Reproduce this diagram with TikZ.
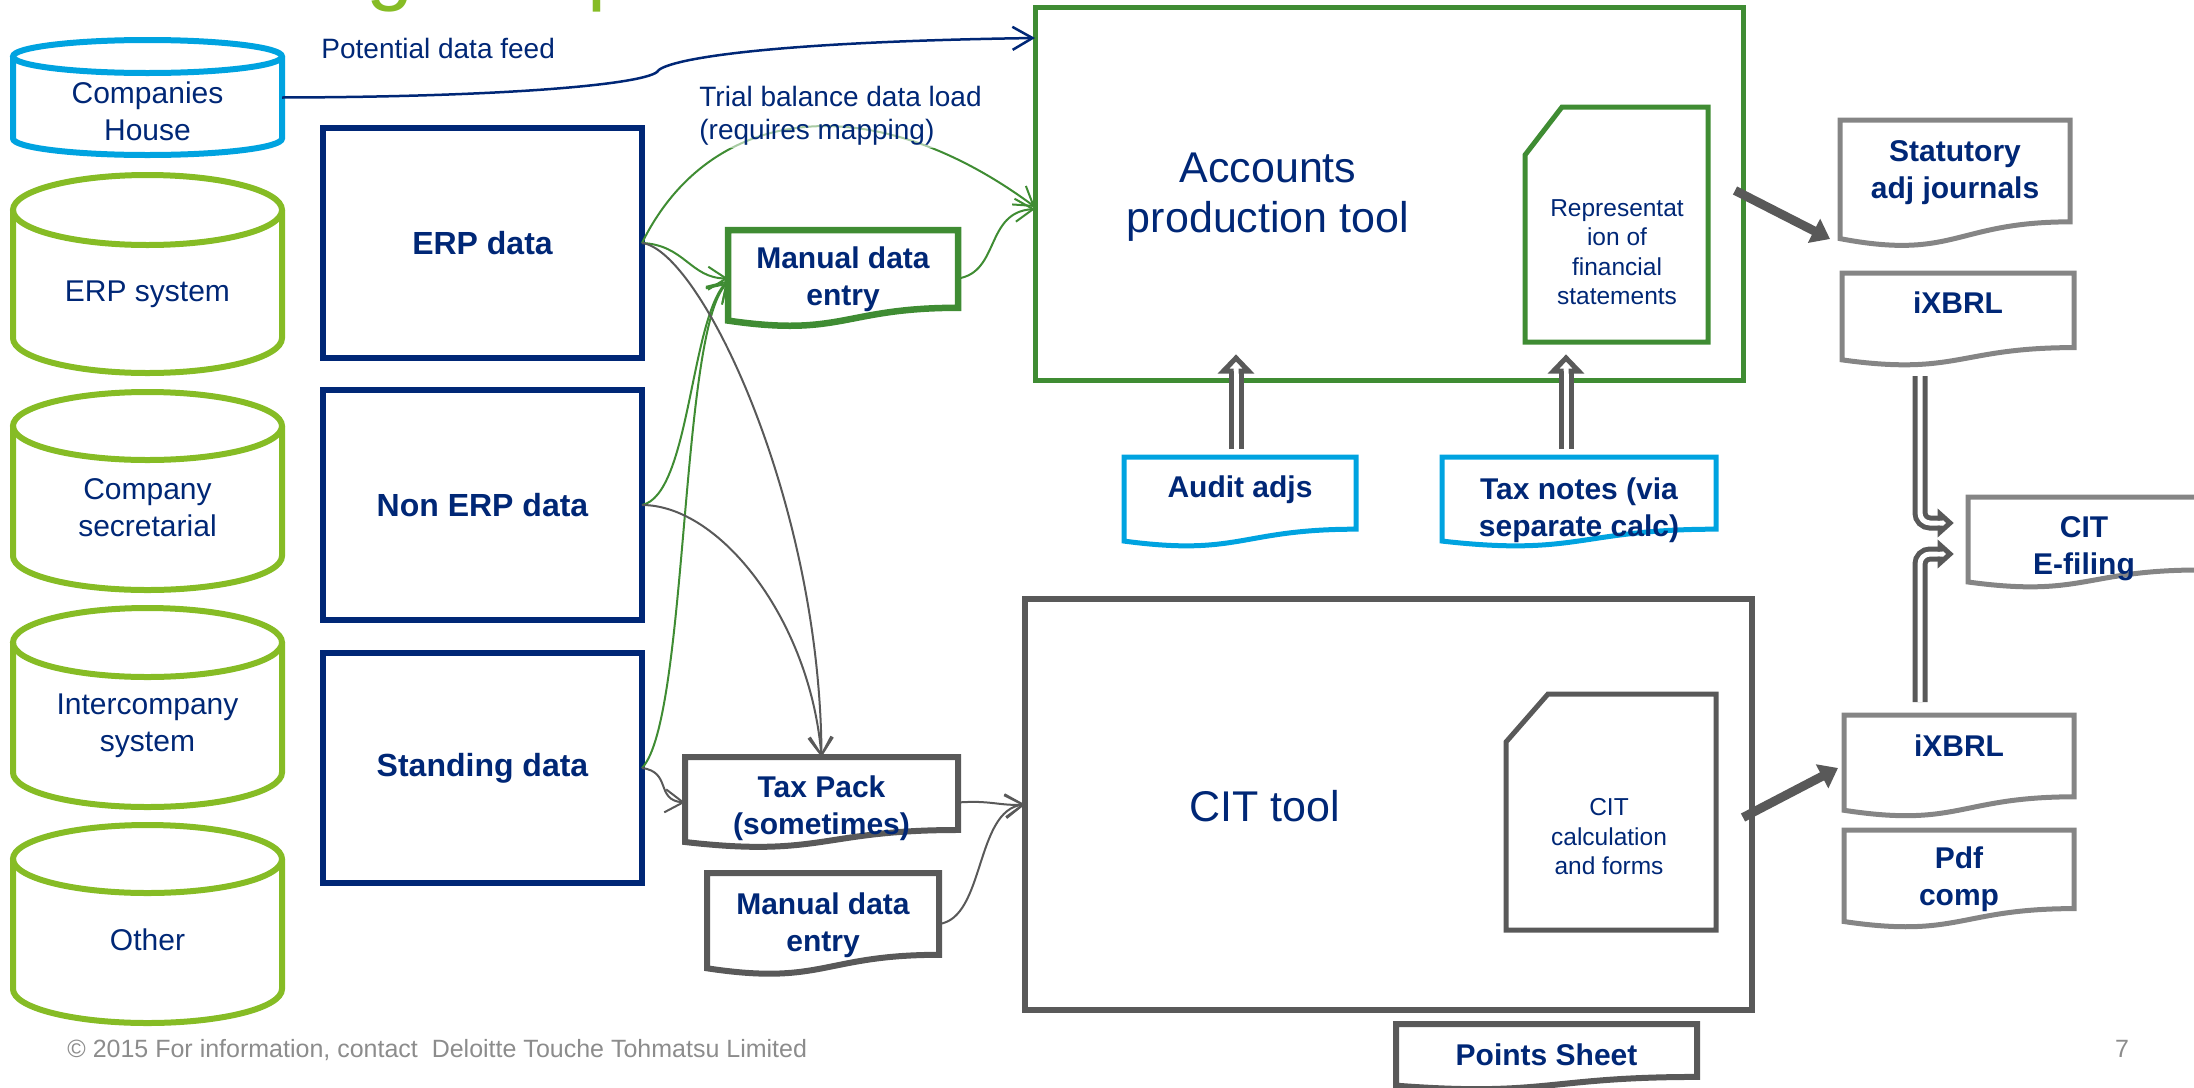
\documentclass[tikz,border=0pt]{standalone}
\usepackage{fontspec}
\setmainfont{Liberation Sans}
\usetikzlibrary{arrows.meta,calc}

\definecolor{navy}{HTML}{002776}
\definecolor{lime}{HTML}{86BC25}
\definecolor{sky}{HTML}{00A3E0}
\definecolor{leaf}{HTML}{3F8C33}
\definecolor{slate}{HTML}{595959}
\definecolor{ash}{HTML}{858585}
\definecolor{foot}{HTML}{8C8C8C}

\tikzset{
  frame/.style={shape=rectangle, draw=none, inner sep=0pt, outer sep=0pt},
  txt/.style={text=navy, align=center, inner sep=0pt, font=\fontsize{15pt}{18.5pt}\selectfont},
  btxt/.style={txt, font=\bfseries\fontsize{15pt}{18.5pt}\selectfont},
  srcbox/.style={frame, draw=navy, line width=3pt, line join=miter,
    minimum width=159.5pt, minimum height=115pt, text=navy,
    font=\bfseries\fontsize{16pt}{19pt}\selectfont},
  thinarrow/.style={line width=1pt, -{Straight Barb[length=9pt,width=11.5pt]}},
  gline/.style={thinarrow, draw=leaf},
  kline/.style={thinarrow, draw=slate},
  feed/.style={draw=navy, line width=1.25pt, -{Straight Barb[length=10pt,width=11.5pt]}},
  fatarrow/.style={draw=slate, line width=4.5pt, -{Triangle[length=9pt,width=13pt]}},
  pipe/.style={draw=slate, line width=2.5pt, double=white, double distance=2.5pt},
  pipehead/.style={draw=slate, fill=white, line width=2.5pt, line join=miter},
}

% drum-shaped data store: name, colour, top, ellipse radius, bottom (px)
\newcommand\drumshape[5]{%
  \pgfmathsetmacro\drumE{#3+#4}%
  \pgfmathsetmacro\drumB{#5-#4}%
  \node[frame, minimum width=134.5pt, minimum height={(#5-#3)*0.5pt}] (#1) at (147.5,{(#3+#5)/2}) {};
  \draw[#2, line width=3pt] (147.5,\drumE) ellipse [x radius=67.25pt, y radius={#4*0.5pt}];
  \draw[#2, line width=3pt] (13,\drumE) -- (13,\drumB)
    .. controls (13,{\drumB+0.5523*#4}) and (73.2,#5) .. (147.5,#5)
    .. controls (221.8,#5) and (282,{\drumB+0.5523*#4}) .. (282,\drumB) -- (282,\drumE);
}

% document shape with wavy foot: name, line style, left, top, right, height (px)
\newcommand\docshape[6]{%
  \node[frame, minimum width={(#5-#3)*0.5pt}, minimum height={(#6)*0.5pt}] (#1) at ({(#3+#5)/2},{#4+#6/2}) {};
  \draw[#2, line join=miter] (#1.north west) -- (#1.north east)
    -- ($(#1.north east)!0.802!(#1.south east)$)
    .. controls ($(#1.north)!0.802!(#1.south)$) and ($(#1.north)!1.107!(#1.south)$)
    .. ($(#1.north west)!0.934!(#1.south west)$) -- cycle;
}

\begin{document}
\begin{tikzpicture}[x=0.5pt, y=-0.5pt]
\useasboundingbox (0,0) rectangle (2194,1087);
\clip (0,0) rectangle (2194,1087);

% heading, mostly above the page
\node[anchor=base west, inner sep=0pt, text=lime, font=\fontsize{42.5pt}{42.5pt}\selectfont] (ttl-g) at (366,-6) {g};
\node[anchor=base west, inner sep=0pt, text=lime, font=\fontsize{42.5pt}{42.5pt}\selectfont] (ttl-p) at (587,-6) {p};

% source systems
\drumshape{ch}{sky}{40}{16.5}{155}
\drumshape{erps}{lime}{175}{35}{373}
\drumshape{cosec}{lime}{392}{34}{590}
\drumshape{ico}{lime}{608}{34.5}{807}
\drumshape{oth}{lime}{825}{34}{1023}
\node[txt] (ch-t) at (147.5,111) {Companies\\House};
\node[txt] (erps-t) at (147.5,294) {ERP system};
\node[txt] (cosec-t) at (147.5,508) {Company\\secretarial};
\node[txt] (ico-t) at (147.5,726) {Intercompany\\system};
\node[txt] (oth-t) at (147.5,940) {Other};

% data sets
\node[srcbox] (erp) at (482.5,243) {ERP data};
\node[srcbox] (nonerp) at (482.5,505) {Non ERP data};
\node[srcbox] (std) at (482.5,768) {Standing data};

% tools
\node[frame, draw=leaf, line width=2.5pt, minimum width=354pt, minimum height=186.5pt] (apt) at (1389,193.5) {};
\node[txt, font=\fontsize{21.5pt}{25pt}\selectfont] (apt-t) at (1268,197) {Accounts\\production tool};
\node[frame, draw=slate, line width=2.75pt, minimum width=363.5pt, minimum height=205.5pt] (cit) at (1388.5,804.5) {};
\node[txt, font=\fontsize{21.5pt}{25pt}\selectfont] (cit-t) at (1265,806) {CIT tool};

% outputs held inside the tools
\node[frame, minimum width=91.5pt, minimum height=117.5pt] (rep) at (1616.5,224.5) {};
\draw[leaf, line width=2.5pt, line join=miter] ($(rep.north west)+(0,48)$) -- ($(rep.north west)+(37,0)$)
  -- (rep.north east) -- (rep.south east) -- (rep.south west) -- cycle;
\node[txt, font=\fontsize{12.25pt}{14.75pt}\selectfont] (rep-t) at (1617,252) {Representat\\ion of\\financial\\statements};
\node[frame, minimum width=105pt, minimum height=118pt] (calc) at (1611,812) {};
\draw[slate, line width=2.5pt, line join=miter] ($(calc.north west)+(0,48)$) -- ($(calc.north west)+(42,0)$)
  -- (calc.north east) -- (calc.south east) -- (calc.south west) -- cycle;
\node[txt, font=\fontsize{12.25pt}{14.75pt}\selectfont] (calc-t) at (1609,837) {CIT\\calculation\\and forms};

% documents
\docshape{mde}{leaf, line width=3.25pt}{728}{230}{958}{97}
\docshape{tp}{slate, line width=3pt}{685}{757}{958}{91}
\docshape{mde2}{slate, line width=3pt}{707}{873}{939}{102}
\docshape{audit}{sky, line width=2.5pt}{1124}{457}{1356}{90}
\docshape{taxn}{sky, line width=2.5pt}{1442}{457}{1716}{90}
\docshape{stat}{ash, line width=2.5pt}{1840}{120}{2070}{127}
\docshape{ixt}{ash, line width=2.5pt}{1842}{273}{2074}{93}
\docshape{cef}{ash, line width=2.5pt}{1968}{497}{2200}{91}
\docshape{ixb}{ash, line width=2.5pt}{1844}{715}{2074}{102}
\docshape{pdf}{ash, line width=2.5pt}{1844}{830}{2074}{98}
\docshape{pts}{slate, line width=3pt}{1396}{1024}{1697}{66}

% feeds into the accounts production tool
\draw[feed] (ch.east) .. controls (500,97) and (640,85) .. (657,72)
  .. controls (663,60) and (760,42) .. ($(apt.north west)+(0,31)$);
\draw[gline] (erp.east) .. controls (710,105) and (870,85) .. ($(apt.north west)+(0,200)$);
\draw[gline] (erp.east) .. controls (685,245) and (690,278) .. (mde.west);
\draw[gline] (nonerp.east) .. controls (690,495) and (690,320) .. ($(mde.west)+(0,2)$);
\draw[gline] (std.east) .. controls (688,720) and (680,330) .. ($(mde.west)+(0,4)$);
\draw[gline] (mde.east) .. controls (1000,272) and (985,212) .. ($(apt.north west)+(0,202)$);

% feeds into the tax pack and CIT tool
\draw[kline] (erp.east) .. controls (700,250) and (820,500) .. (tp.north);
\draw[kline] (nonerp.east) .. controls (720,505) and (810,620) .. (tp.north);
\draw[kline] (std.east) .. controls (672,772) and (655,800) .. (tp.west);
\draw[kline] (tp.east) .. controls (990,800) and (1000,806) .. (cit.west);
\draw[kline] (mde2.east) .. controls (985,918) and (975,810) .. (cit.west);

% tool outputs
\draw[fatarrow] ($(apt.east)+(-8,-3)$) -- ($(stat.south west)+(-10,-8)$);
\draw[fatarrow] ($(cit.east)+(-9,13)$) -- ($(ixb.west)+(-6,2)$);

% hollow arrows: adjustments into the accounts tool
\coordinate (tipA) at ($(apt.south west)+(201,-22)$);
\draw[pipe] ($(audit.north west)+(112,-8)$) -- ($(tipA)+(0,13)$);
\draw[pipehead] ($(tipA)+(-2.5,13)$) -- ($(tipA)+(-12.5,13)$) -- (tipA) -- ($(tipA)+(12.5,13)$) -- ($(tipA)+(2.5,13)$);
\coordinate (tipB) at ($(apt.south west)+(531,-22)$);
\draw[pipe] ($(taxn.north west)+(124,-8)$) -- ($(tipB)+(0,13)$);
\draw[pipehead] ($(tipB)+(-2.5,13)$) -- ($(tipB)+(-12.5,13)$) -- (tipB) -- ($(tipB)+(12.5,13)$) -- ($(tipB)+(2.5,13)$);

% hollow arrows: iXBRL files to e-filing
\coordinate (tipC) at ($(cef.north west)+(-18,26)$);
\draw[pipe, rounded corners=5pt] ($(ixt.south west)+(78,10)$) |- ($(tipC)+(-10,0)$);
\draw[pipehead] ($(tipC)+(-10,-2.5)$) -- ($(tipC)+(-10,-9)$) -- (tipC) -- ($(tipC)+(-10,9)$) -- ($(tipC)+(-10,2.5)$);
\coordinate (tipD) at ($(cef.north west)+(-18,57)$);
\draw[pipe, rounded corners=5pt] ($(ixb.north west)+(76,-13)$) |- ($(tipD)+(-10,0)$);
\draw[pipehead] ($(tipD)+(-10,-2.5)$) -- ($(tipD)+(-10,-9)$) -- (tipD) -- ($(tipD)+(-10,9)$) -- ($(tipD)+(-10,2.5)$);

% connector labels
\node[anchor=west, inner sep=0pt, text=navy, font=\fontsize{14pt}{16.5pt}\selectfont] (feed-t) at (321,48) {Potential data feed};
\node[anchor=west, align=left, inner sep=1pt, text=navy, fill=white, fill opacity=0.55, text opacity=1,
  font=\fontsize{14pt}{16.5pt}\selectfont] (tb-t) at (697,116) {Trial balance data load\\(requires mapping)};

% document texts
\node[btxt] (mde-t) at (843,279) {Manual data\\entry};
\node[btxt] (tp-t) at (821.5,808) {Tax Pack\\(sometimes)};
\node[btxt] (mde2-t) at (823,925) {Manual data\\entry};
\node[btxt] (audit-t) at (1240,490) {Audit adjs};
\node[btxt] (taxn-t) at (1579,510) {Tax notes (via\\separate calc)};
\node[btxt] (stat-t) at (1955,173) {Statutory\\adj journals};
\node[btxt] (ixt-t) at (1958,303) {iXBRL};
\node[btxt] (cef-t) at (2084,549) {CIT\\E-filing};
\node[btxt] (ixb-t) at (1959,746) {iXBRL};
\node[btxt] (pdf-t) at (1959,879) {Pdf\\comp};
\node[btxt] (pts-t) at (1546.5,1055) {Points Sheet};

% footer
\node[anchor=west, inner sep=0pt, text=foot, font=\fontsize{12.5pt}{15pt}\selectfont] (copy) at (67,1050)
  {© 2015 For information, contact\ \ Deloitte Touche Tohmatsu Limited};
\node[inner sep=0pt, text=foot, font=\fontsize{12.5pt}{15pt}\selectfont] (pgno) at (2122,1049) {7};
\end{tikzpicture}
\end{document}
